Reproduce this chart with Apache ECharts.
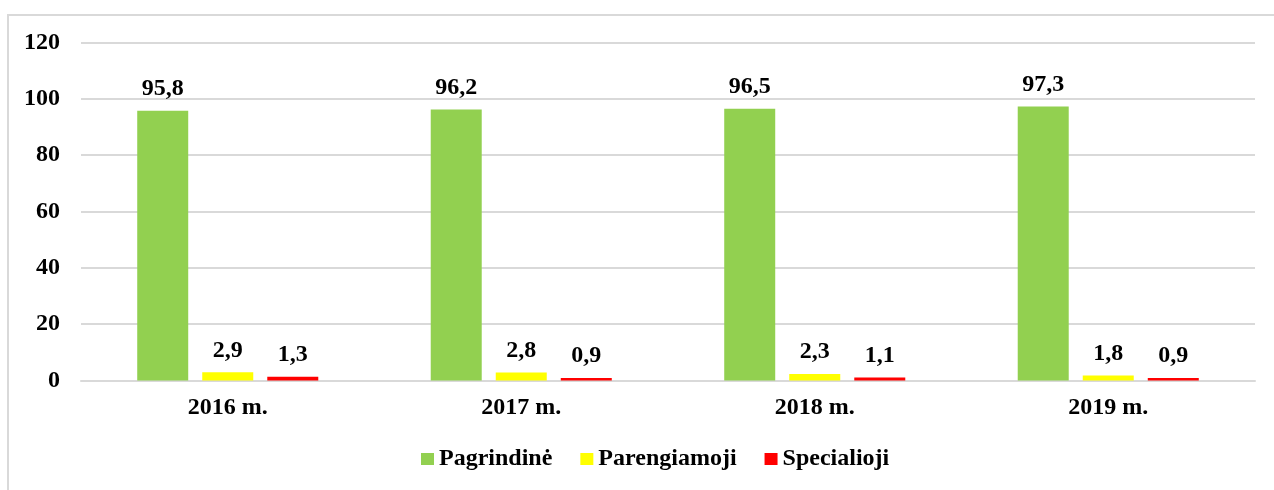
<!DOCTYPE html>
<html><head><meta charset="utf-8">
<script src="https://cdn.jsdelivr.net/npm/echarts@6/dist/echarts.min.js"></script>
<style>
html,body{margin:0;padding:0;background:#fff;overflow:hidden;}
#frame{position:absolute;left:7px;top:14px;width:1300px;height:520px;border:2px solid #d9d9d9;box-sizing:border-box;}
#chart{position:absolute;left:0;top:0;width:1274px;height:490px;}
</style></head>
<body>
<div id="frame"></div>
<div id="chart"></div>
<script>
const categories = ['2016 m.', '2017 m.', '2018 m.', '2019 m.'];
const pagrindine = [95.8, 96.2, 96.5, 97.3];
const parengiamoji = [2.9, 2.8, 2.3, 1.8];
const specialioji = [1.3, 0.9, 1.1, 0.9];
const seriesNames = ['Pagrindinė', 'Parengiamoji', 'Specialioji'];

const FONT = '"Liberation Serif", "Times New Roman", serif';
const txt = {fontFamily: FONT, fontWeight: 'bold', fontSize: 24, color: '#000'};
const fmt = p => String(p.value).replace('.', ',');
function bar(name, data, color) {
  return {
    name, type: 'bar', data, barWidth: 51, barGap: '27.5%',
    itemStyle: {color},
    label: {show: true, position: 'top', distance: 10, formatter: fmt, ...txt}
  };
}
const chart = echarts.init(document.getElementById('chart'), null, {renderer: 'canvas'});
chart.setOption({
  animation: false,
  backgroundColor: 'transparent',
  grid: {left: 81, right: 19, top: 42.5, bottom: 109.5, containLabel: false},
  legend: {
    data: seriesNames, bottom: 14, left: 416, itemWidth: 13, itemHeight: 12, itemGap: 28,
    icon: 'rect', textStyle: {...txt}
  },
  xAxis: {
    type: 'category', data: categories,
    axisLine: {lineStyle: {color: '#d9d9d9', width: 2}},
    axisTick: {show: false},
    axisLabel: {...txt, margin: 15}
  },
  yAxis: {
    type: 'value', min: 0, max: 120, interval: 20,
    axisLine: {show: false}, axisTick: {show: false},
    splitLine: {lineStyle: {color: '#d9d9d9', width: 2}},
    axisLabel: {...txt, margin: 21}
  },
  series: [
    bar(seriesNames[0], pagrindine, '#92D050'),
    bar(seriesNames[1], parengiamoji, '#FFFF00'),
    bar(seriesNames[2], specialioji, '#FF0000')
  ]
});
</script>
</body></html>
